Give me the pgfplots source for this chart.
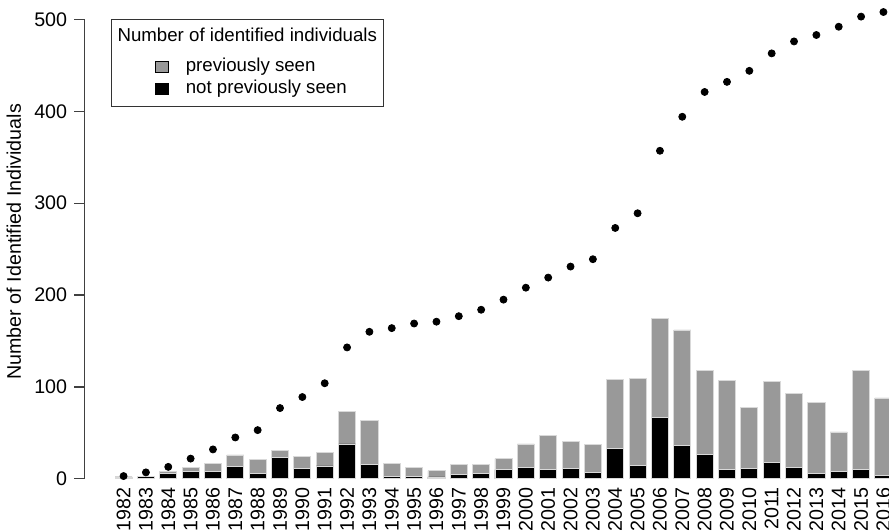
\documentclass[border=0pt]{standalone}
\usepackage{pgfplots}
\pgfplotsset{compat=1.18}
\usepackage{pgfplotstable}
\usepackage{fontspec}
\setmainfont{Liberation Sans}
\definecolor{prevgray}{RGB}{153,153,153}

% year, new = not previously seen, total = all identified, cum = cumulative new
\pgfplotstableread{
year new total cum
1982 2 2 3
1983 3 3 7
1984 6 8 13
1985 8 12 22
1986 8 17 32
1987 13 26 45
1988 6 21 53
1989 23 31 77
1990 11 24 89
1991 14 29 104
1992 38 73 143
1993 16 64 160
1994 3 17 164
1995 3 12 169
1996 2 9 171
1997 5 16 177
1998 6 16 184
1999 10 22 195
2000 12 38 208
2001 10 47 219
2002 11 41 231
2003 7 37 239
2004 33 108 273
2005 15 109 289
2006 67 175 357
2007 36 162 394
2008 27 118 421
2009 10 107 432
2010 11 78 444
2011 18 106 463
2012 12 93 476
2013 6 83 483
2014 8 51 492
2015 10 118 503
2016 4 88 508
}\counts

\begin{document}
\begin{tikzpicture}[trim axis right]
\begin{axis}[
    scale only axis,
    width=400.85pt, height=228.85pt,
    xmin=1980.24, xmax=2016.25,
    ymin=0, ymax=500,
    clip=false,
    axis x line*=bottom,
    axis y line*=left,
    x axis line style={draw=none},
    y axis line style={black!75, line width=0.6pt},
    xtick={1982,...,2016},
    ytick={0,100,...,500},
    xtick style={draw=none},
    ytick style={black!75, line width=0.6pt},
    tick align=outside,
    major tick length=5pt,
    /pgf/number format/1000 sep={},
    /pgf/number format/assume math mode=true,
    tick label style={font=\fontsize{9.8}{11.8}\selectfont},
    xticklabel style={rotate=90, anchor=east, inner sep=0pt},
    xticklabel shift=-1pt,
    ylabel={Number of Identified Individuals},
    every axis y label/.style={at={(axis description cs:-0.0696,0.516)},
        rotate=90, anchor=south, font=\fontsize{9.8}{11.8}\selectfont},
    legend cell align=left,
    legend style={at={(axis description cs:0.0333,1)}, anchor=north west,
        draw=black!80, line width=0.5pt, inner sep=3pt,
        row sep=0pt, column sep=0pt,
        nodes={inner sep=0pt, text height=7.9pt, text depth=3.25pt},
        /tikz/every odd column/.append style={column sep=8.5pt},
        font=\fontsize{9.3}{11.3}\selectfont},
]
\addlegendimage{legend image code/.code={\path (0pt,-9pt) (0pt,0pt);}}
\addlegendimage{legend image code/.code={\path (0pt,0pt);
    \draw[fill=prevgray, draw=black, line width=0.5pt] (18.5pt,-2.75pt) rectangle (25pt,2.75pt);}}
\addlegendimage{legend image code/.code={\path (0pt,0pt);
    \draw[fill=black, draw=black, line width=0.5pt] (18.5pt,-2.75pt) rectangle (25pt,2.75pt);}}
\legend{\hspace*{-34pt}Number of identified individuals,
        previously seen, not previously seen}

\addplot[ybar, bar width=8.5pt, bar shift=0pt, fill=prevgray,
    draw=white!85!black, line width=0.4pt] table[x=year, y=total] {\counts};
\addplot[ybar, bar width=8.5pt, bar shift=0pt, fill=black,
    draw=white!85!black, line width=0.4pt] table[x=year, y=new] {\counts};
\addplot[only marks, mark=*, mark size=1.75pt, black] table[x=year, y=cum] {\counts};
\end{axis}
\path (current axis.north) ++(0pt,9.65pt);
\end{tikzpicture}
\end{document}
